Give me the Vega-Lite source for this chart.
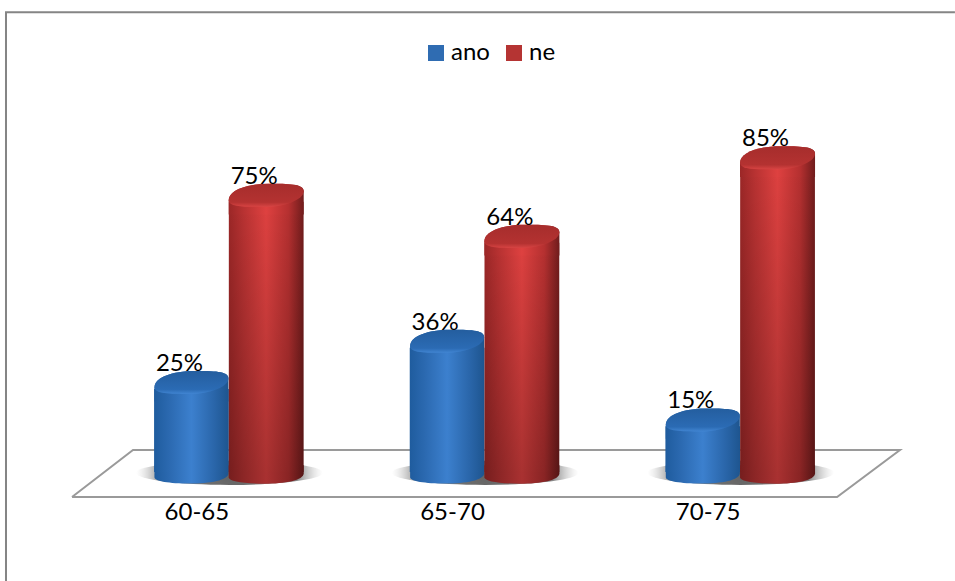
{
  "$schema": "https://vega.github.io/schema/vega-lite/v6.json",
  "width": 767,
  "height": 397,
  "padding": {"left": 101, "top": 102, "right": 87, "bottom": 82},
  "autosize": "none",
  "background": "white",
  "config": {"view": {"stroke": null}},
  "datasets": {
    "bars": [
      {"vek": "60-65", "odpoved": "ano", "podil": 0.25},
      {"vek": "60-65", "odpoved": "ne", "podil": 0.75},
      {"vek": "65-70", "odpoved": "ano", "podil": 0.36},
      {"vek": "65-70", "odpoved": "ne", "podil": 0.64},
      {"vek": "70-75", "odpoved": "ano", "podil": 0.15},
      {"vek": "70-75", "odpoved": "ne", "podil": 0.85}
    ],
    "frame": [
      {"k": 1, "px": -0.3716, "py": -0.279},
      {"k": 2, "px": -0.3716, "py": 1.2397},
      {"k": 3, "px": 3.34, "py": 1.2397}
    ],
    "floor": [
      {"k": 1, "px": -0.1134, "py": -0.0547},
      {"k": 2, "px": 0.1252, "py": 0.0707},
      {"k": 3, "px": 3.125, "py": 0.0707},
      {"k": 4, "px": 2.879, "py": -0.0547},
      {"k": 5, "px": -0.1134, "py": -0.0547}
    ]
  },
  "resolve": {"scale": {"x": "independent"}},
  "layer": [
    {
      "data": {"name": "frame"},
      "mark": {"type": "line", "stroke": "#858585", "strokeWidth": 2, "strokeJoin": "miter", "clip": false},
      "encoding": {
        "x": {"field": "px", "type": "quantitative", "axis": null, "scale": {"domain": [0, 3], "nice": false, "zero": false}},
        "y": {"field": "py", "type": "quantitative", "axis": null, "scale": {"domain": [-0.06, 1], "nice": false}},
        "order": {"field": "k"}
      }
    },
    {
      "data": {"name": "floor"},
      "mark": {"type": "line", "stroke": "#9a9a9a", "strokeWidth": 2, "strokeJoin": "miter", "clip": false},
      "encoding": {
        "x": {"field": "px", "type": "quantitative", "axis": null, "scale": {"domain": [0, 3], "nice": false, "zero": false}},
        "y": {"field": "py", "type": "quantitative", "axis": null, "scale": {"domain": [-0.06, 1], "nice": false}},
        "order": {"field": "k"}
      }
    },
    {
      "data": {"name": "bars"},
      "encoding": {
        "x": {
          "field": "vek",
          "type": "nominal",
          "scale": {"paddingInner": 0, "paddingOuter": 0},
          "axis": {"title": null, "domain": false, "ticks": false, "grid": false, "labelAngle": 0, "labelOffset": -32, "labelPadding": 1, "labelFont": "Lato", "labelFontSize": 24, "labelColor": "#000000"}
        },
        "xOffset": {"field": "odpoved", "type": "nominal", "scale": {"paddingInner": 0, "paddingOuter": 0.71}},
        "y": {"field": "podil", "type": "quantitative", "axis": null, "stack": null, "scale": {"domain": [-0.06, 1], "nice": false}}
      },
      "layer": [
        {
          "transform": [{"filter": "datum.odpoved === 'ano'"}],
          "mark": {
            "type": "point", "filled": true, "opacity": 1, "strokeWidth": 0, "size": 35000,
            "shape": "M-1,-0.04 C-1,-0.11 -0.55,-0.17 0,-0.17 C0.55,-0.17 1,-0.11 1,-0.04 C1,0.03 0.55,0.09 0,0.09 C-0.55,0.09 -1,0.03 -1,-0.04 Z",
            "fill": {"gradient": "radial", "x1": 0.5, "y1": 0.5, "r1": 0, "x2": 0.5, "y2": 0.5, "r2": 0.5,
              "stops": [{"offset": 0, "color": "rgba(90,90,90,0.95)"}, {"offset": 0.72, "color": "rgba(110,110,110,0.85)"}, {"offset": 1, "color": "rgba(200,200,200,0)"}]}
          },
          "encoding": {"xOffset": {"value": 128.5}, "y": {"datum": 0}}
        },
        {
          "transform": [{"filter": "datum.odpoved === 'ano'"}],
          "mark": {
            "type": "point", "filled": true, "opacity": 1, "strokeWidth": 0, "size": 5476,
            "shape": "M-1,0.02 C-1,0.13 -0.6,0.19 -0.05,0.19 C0.5,0.19 1,0.1 1,-0.09 L1,-0.3 L-1,-0.3 Z",
            "fill": {"gradient": "linear", "x1": 0, "y1": 0, "x2": 1, "y2": 0,
              "stops": [{"offset": 0, "color": "#1f5c9e"}, {"offset": 0.2, "color": "#2b69b0"}, {"offset": 0.5, "color": "#3c80ce"}, {"offset": 0.8, "color": "#2a66aa"}, {"offset": 1, "color": "#1e558f"}]}
          },
          "encoding": {"y": {"datum": 0}}
        },
        {
          "transform": [{"filter": "datum.odpoved === 'ano'"}],
          "mark": {
            "type": "bar", "yOffset": 6,
            "fill": {"gradient": "linear", "x1": 0, "y1": 0, "x2": 1, "y2": 0,
              "stops": [{"offset": 0, "color": "#1f5c9e"}, {"offset": 0.2, "color": "#2b69b0"}, {"offset": 0.5, "color": "#3c80ce"}, {"offset": 0.8, "color": "#2a66aa"}, {"offset": 1, "color": "#1e558f"}]}
          },
          "encoding": {"y2": {"datum": 0.012}}
        },
        {
          "transform": [{"filter": "datum.odpoved === 'ano'"}],
          "mark": {
            "type": "point", "filled": true, "opacity": 1, "strokeWidth": 0, "size": 5476,
            "shape": "M-1,0.12 C-1,-0.15 -0.5,-0.32 0.05,-0.32 C0.6,-0.32 1,-0.32 1,-0.12 L1,0.5 L-1,0.5 Z",
            "fill": {"gradient": "linear", "x1": 0, "y1": 0, "x2": 1, "y2": 0,
              "stops": [{"offset": 0, "color": "#1f5c9e"}, {"offset": 0.2, "color": "#2b69b0"}, {"offset": 0.5, "color": "#3c80ce"}, {"offset": 0.8, "color": "#2a66aa"}, {"offset": 1, "color": "#1e558f"}]}
          }
        },
        {
          "transform": [{"filter": "datum.odpoved === 'ano'"}],
          "mark": {
            "type": "point", "filled": true, "opacity": 1, "strokeWidth": 0, "size": 5476,
            "shape": "M-1,0.12 C-1,-0.15 -0.5,-0.32 0.05,-0.32 C0.6,-0.32 1,-0.32 1,-0.12 C1,0.1 0.5,0.3 -0.05,0.3 C-0.6,0.3 -1,0.3 -1,0.12 Z",
            "fill": {"gradient": "linear", "x1": 0, "y1": 0, "x2": 0, "y2": 1,
              "stops": [{"offset": 0, "color": "#245e9f"}, {"offset": 0.8, "color": "#2b6bb4"}, {"offset": 1, "color": "#4185d2"}]}
          }
        },
        {
          "transform": [{"filter": "datum.odpoved === 'ne'"}],
          "mark": {
            "type": "point", "filled": true, "opacity": 1, "strokeWidth": 0, "size": 5625,
            "shape": "M-1,0.02 C-1,0.13 -0.6,0.19 -0.05,0.19 C0.5,0.19 1,0.1 1,-0.09 L1,-0.3 L-1,-0.3 Z",
            "fill": {"gradient": "linear", "x1": 0, "y1": 0, "x2": 1, "y2": 0,
              "stops": [{"offset": 0, "color": "#761e1e"}, {"offset": 0.2, "color": "#8c2626"}, {"offset": 0.5, "color": "#a93131"}, {"offset": 0.8, "color": "#892424"}, {"offset": 1, "color": "#551515"}]}
          },
          "encoding": {"y": {"datum": 0}}
        },
        {
          "transform": [{"filter": "datum.odpoved === 'ne'"}],
          "mark": {
            "type": "bar", "yOffset": 6,
            "fill": {"gradient": "linear", "x1": 0, "y1": 0, "x2": 1, "y2": 0,
              "stops": [{"offset": 0, "color": "#9b2727"}, {"offset": 0.2, "color": "#b83232"}, {"offset": 0.5, "color": "#de4140"}, {"offset": 0.8, "color": "#b53030"}, {"offset": 1, "color": "#701c1c"}]}
          },
          "encoding": {"y2": {"datum": 0.012}}
        },
        {
          "transform": [{"filter": "datum.odpoved === 'ne'"}],
          "mark": {
            "type": "bar", "yOffset": 6,
            "fill": {"gradient": "linear", "x1": 0, "y1": 0, "x2": 0, "y2": 1,
              "stops": [{"offset": 0, "color": "rgba(0,0,0,0)"}, {"offset": 1, "color": "rgba(0,0,0,0.24)"}]}
          },
          "encoding": {"y2": {"datum": 0.012}}
        },
        {
          "transform": [{"filter": "datum.odpoved === 'ne'"}],
          "mark": {
            "type": "point", "filled": true, "opacity": 1, "strokeWidth": 0, "size": 5625,
            "shape": "M-1,0.12 C-1,-0.15 -0.5,-0.32 0.05,-0.32 C0.6,-0.32 1,-0.32 1,-0.12 L1,0.5 L-1,0.5 Z",
            "fill": {"gradient": "linear", "x1": 0, "y1": 0, "x2": 1, "y2": 0,
              "stops": [{"offset": 0, "color": "#9b2727"}, {"offset": 0.2, "color": "#b83232"}, {"offset": 0.5, "color": "#de4140"}, {"offset": 0.8, "color": "#b53030"}, {"offset": 1, "color": "#701c1c"}]}
          }
        },
        {
          "transform": [{"filter": "datum.odpoved === 'ne'"}],
          "mark": {
            "type": "point", "filled": true, "opacity": 1, "strokeWidth": 0, "size": 5625,
            "shape": "M-1,0.12 C-1,-0.15 -0.5,-0.32 0.05,-0.32 C0.6,-0.32 1,-0.32 1,-0.12 C1,0.1 0.5,0.3 -0.05,0.3 C-0.6,0.3 -1,0.3 -1,0.12 Z",
            "fill": {"gradient": "linear", "x1": 0, "y1": 0, "x2": 0, "y2": 1,
              "stops": [{"offset": 0, "color": "#a62d2c"}, {"offset": 0.8, "color": "#b43231"}, {"offset": 1, "color": "#d84443"}]}
          }
        },
        {
          "mark": {"type": "text", "font": "Lato", "fontSize": 24, "color": "#000000", "baseline": "middle", "align": "center", "dx": -12, "dy": -19},
          "encoding": {"text": {"field": "podil", "type": "quantitative", "format": ".0%"}}
        },
        {
          "mark": {"type": "point", "filled": true, "opacity": 0, "size": 1},
          "encoding": {
            "color": {
              "field": "odpoved",
              "type": "nominal",
              "scale": {"domain": ["ano", "ne"], "range": ["#2f6cb2", "#b53433"]},
              "legend": {
                "title": null, "orient": "none", "legendX": 323, "legendY": -61, "direction": "horizontal",
                "symbolType": "square", "symbolSize": 256, "symbolOpacity": 1, "symbolStrokeWidth": 0,
                "labelFont": "Lato", "labelFontSize": 24, "labelColor": "#000000", "columnPadding": 12, "labelOffset": 3,
                "encode": {"symbols": {"update": {"fill": {"signal": "datum.value === 'ano' ? {gradient: 'linear', x1: 0, y1: 0, x2: 0, y2: 1, stops: [{offset: 0, color: '#3f80cc'}, {offset: 1, color: '#24558f'}]} : {gradient: 'linear', x1: 0, y1: 0, x2: 0, y2: 1, stops: [{offset: 0, color: '#d04a48'}, {offset: 1, color: '#8a2625'}]}"}}}}
              }
            }
          }
        }
      ]
    }
  ]
}
